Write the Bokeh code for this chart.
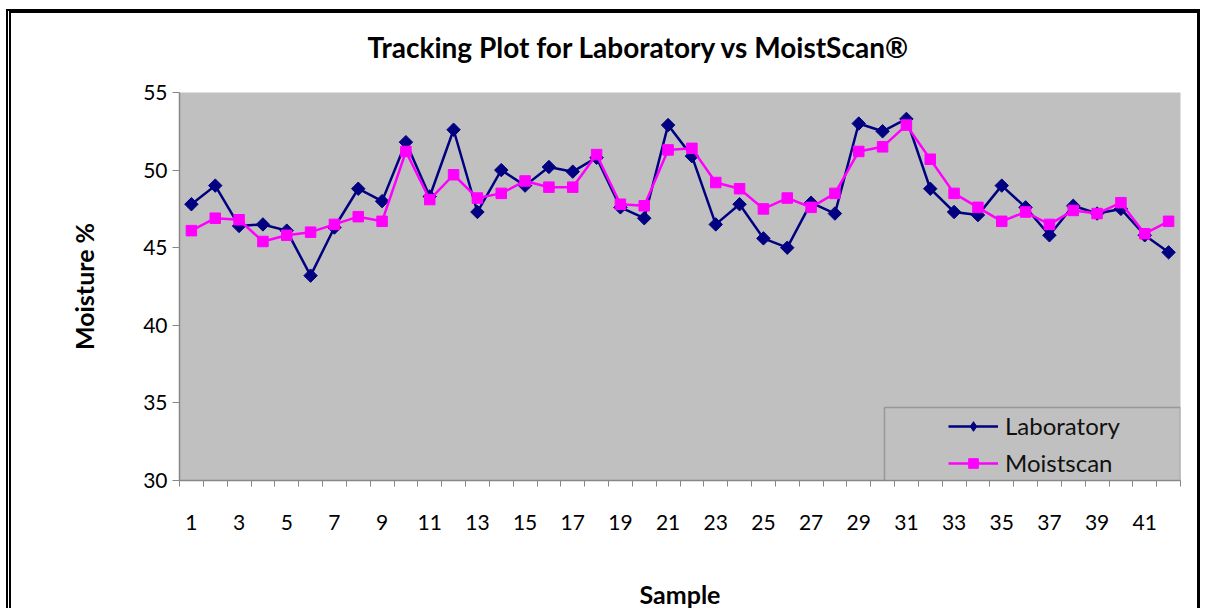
import math
from bokeh.plotting import figure
from bokeh.models import (FixedTicker, Legend, LegendItem, BoxAnnotation,
                          Range1d, ColumnDataSource, Title)
from bokeh.embed import file_html
from bokeh.resources import INLINE

# ---- data ----
samples = list(range(1, 43))
laboratory = [47.8, 49.0, 46.4, 46.5, 46.1, 43.2, 46.3, 48.8, 48.0, 51.8,
              48.3, 52.6, 47.3, 50.0, 49.0, 50.2, 49.9, 50.8, 47.6, 46.9,
              52.9, 50.9, 46.5, 47.8, 45.6, 45.0, 47.9, 47.2, 53.0, 52.5,
              53.3, 48.8, 47.3, 47.1, 49.0, 47.6, 45.8, 47.7, 47.2, 47.5,
              45.8, 44.7]
moistscan = [46.1, 46.9, 46.8, 45.4, 45.8, 46.0, 46.5, 47.0, 46.7, 51.2,
             48.1, 49.7, 48.2, 48.5, 49.3, 48.9, 48.9, 51.0, 47.8, 47.7,
             51.3, 51.4, 49.2, 48.8, 47.5, 48.2, 47.6, 48.5, 51.2, 51.5,
             52.9, 50.7, 48.5, 47.6, 46.7, 47.3, 46.5, 47.4, 47.2, 47.9,
             45.9, 46.7]
x_tick_positions = list(range(1, 42, 2))
x_tick_labels = [str(i) for i in x_tick_positions]
y_ticks = [30, 35, 40, 45, 50, 55]
series_names = ["Laboratory", "Moistscan"]
chart_title = "Tracking Plot for Laboratory vs MoistScan\u00ae"

FONT = "Lato"
AXIS_GRAY = "#878787"
NAVY = "#000080"
MAGENTA = "#FF00FF"

p = figure(width=1194, height=599, output_backend="svg", toolbar_location=None,
           x_range=Range1d(0.5, 42.5), y_range=Range1d(30, 55),
           min_border_left=168, min_border_right=25,
           min_border_top=79, min_border_bottom=132,
           background_fill_color="#C0C0C0", border_fill_color="white")
p.outline_line_color = None
p.xgrid.visible = False
p.ygrid.visible = False

xa = p.below[0]
ya = p.left[0]

# blank spacer between the frame and the title, so the title sits higher
spacer = Title(text=" ", text_font=FONT, text_font_size="10px",
               text_color="white", standoff=15)
p.add_layout(spacer, "above")

# title
p.title.text = chart_title
p.title.text_font = FONT
p.title.text_font_size = "28px"
p.title.text_font_style = "bold"
p.title.text_color = "black"
p.title.align = "left"
p.title.offset = 188
p.title.standoff = 0

# x axis
xa.ticker = FixedTicker(ticks=x_tick_positions,
                        minor_ticks=[i + 0.5 for i in range(0, 43)])
xa.major_label_overrides = {pos: lab for pos, lab in zip(x_tick_positions, x_tick_labels)}
xa.major_tick_in = 0
xa.major_tick_out = 0
xa.minor_tick_in = 0
xa.minor_tick_out = 6
xa.minor_tick_line_color = AXIS_GRAY
xa.minor_tick_line_width = 1
xa.axis_line_color = AXIS_GRAY
xa.axis_line_width = 1.5
xa.major_label_standoff = 28
xa.major_label_text_font = FONT
xa.major_label_text_font_size = "21px"
xa.major_label_text_color = "black"
xa.axis_label = "Sample"
xa.axis_label_text_font = FONT
xa.axis_label_text_font_size = "25px"
xa.axis_label_text_font_style = "bold"
xa.axis_label_text_color = "black"
xa.axis_label_standoff = 46

# y axis
ya.ticker = FixedTicker(ticks=y_ticks, minor_ticks=[])
ya.major_tick_in = 0
ya.major_tick_out = 7
ya.major_tick_line_color = AXIS_GRAY
ya.axis_line_color = AXIS_GRAY
ya.axis_line_width = 1.5
ya.major_label_standoff = 5
ya.major_label_text_font = FONT
ya.major_label_text_font_size = "21px"
ya.major_label_text_color = "black"
ya.axis_label = "Moisture %"
ya.axis_label_text_font = FONT
ya.axis_label_text_font_size = "25px"
ya.axis_label_text_font_style = "bold"
ya.axis_label_text_color = "black"
ya.axis_label_standoff = 41

src = ColumnDataSource(dict(sample=samples, lab=laboratory, moist=moistscan))

lab_line = p.line("sample", "lab", source=src, line_color=NAVY, line_width=2.5)
lab_pts = p.scatter("sample", "lab", source=src, marker="square", angle=math.pi / 4,
                    size=9.5, fill_color=NAVY, line_color=NAVY)
moist_line = p.line("sample", "moist", source=src, line_color=MAGENTA, line_width=2.5)
moist_pts = p.scatter("sample", "moist", source=src, marker="square",
                      size=10.5, fill_color=MAGENTA, line_color=MAGENTA)

# legend-only diamond key (a rotated square is not rotated inside legends);
# its single point is NaN so nothing is drawn in the plot area
key_src = ColumnDataSource(dict(sample=[float("nan")], lab=[float("nan")]))
lab_key = p.scatter("sample", "lab", source=key_src, marker="diamond", size=17,
                    fill_color=NAVY, line_color=NAVY)

# legend frame
box = BoxAnnotation(left=30.08, right=42.5, bottom=30, top=34.7,
                    fill_color="#C0C0C0", fill_alpha=1.0,
                    line_color="#3a3a3a", line_width=1.5)
p.add_layout(box)

legend = Legend(items=[LegendItem(label=series_names[0], renderers=[lab_line, lab_key]),
                       LegendItem(label=series_names[1], renderers=[moist_line, moist_pts])],
                location=(769, 3), orientation="vertical",
                background_fill_alpha=0, border_line_color=None,
                glyph_width=50, glyph_height=24, label_height=24, spacing=8,
                padding=4, margin=0, label_standoff=7,
                label_text_font=FONT, label_text_font_size="24px",
                label_text_color="#111111")
p.add_layout(legend)

p.styles = {"margin-left": "6px", "margin-top": "9px",
            "border-top": "4px solid black", "border-left": "5px double black",
            "border-right": "3px solid black"}

open("out.html", "w").write(file_html(p, INLINE))
